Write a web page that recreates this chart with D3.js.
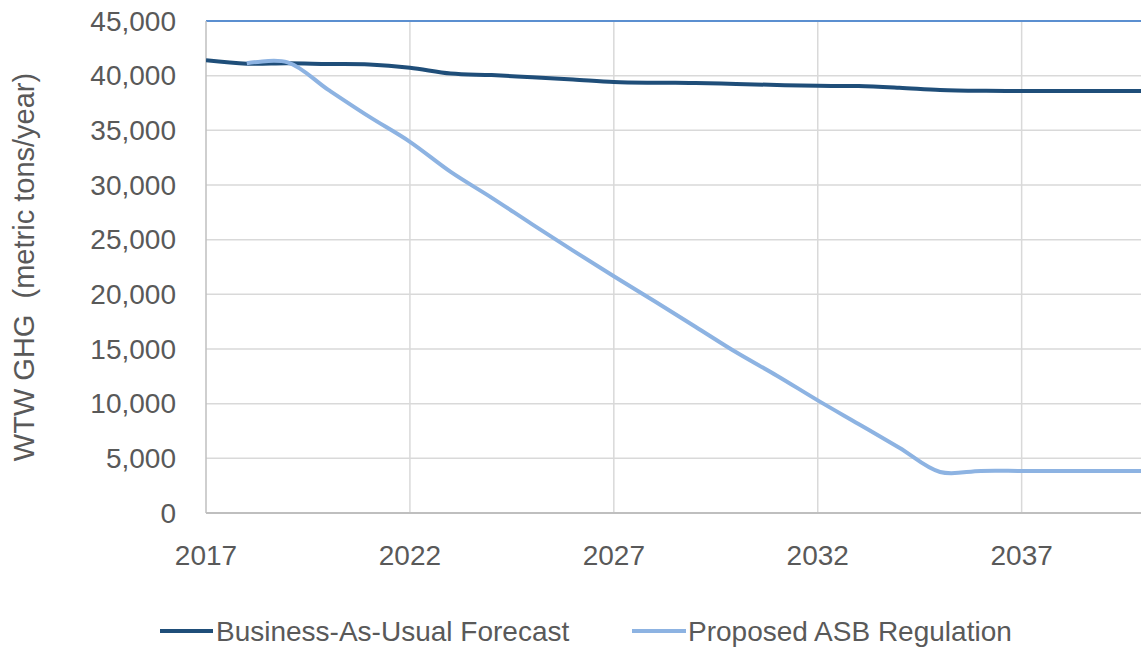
<!DOCTYPE html>
<html>
<head>
<meta charset="utf-8">
<script src="https://cdn.jsdelivr.net/npm/d3@7"></script>
<style>
  html, body { margin: 0; padding: 0; background: #fff; overflow: hidden; }
  svg { display: block; }
  text { font-family: "Liberation Sans", Arial, sans-serif; fill: #595959; }
</style>
</head>
<body>
<svg id="chart" width="1141" height="648"></svg>
<script>
const years = d3.range(2017, 2041);
const bauValues = [41400, 41100, 41130, 41070, 41030, 40730, 40200, 40050, 39850, 39650, 39420, 39350, 39330, 39240, 39150, 39070, 39050, 38900, 38700, 38620, 38600, 38600, 38600, 38600];
const asbYears = d3.range(2018, 2041);
const asbValues = [41130, 41220, 38700, 36250, 33950, 31200, 28850, 26400, 24000, 21650, 19370, 17040, 14700, 12560, 10300, 8140, 5970, 3750, 3850, 3850, 3850, 3850, 3850];
const yTicks = [0, 5000, 10000, 15000, 20000, 25000, 30000, 35000, 40000, 45000];
const xTicks = [2017, 2022, 2027, 2032, 2037];
const seriesNames = ["Business-As-Usual Forecast", "Proposed ASB Regulation"];
const yLabel = "WTW GHG  (metric tons/year)";

const colors = ["#1f4e79", "#8db3e2"];

const svg = d3.select("#chart");
const pLeft = 206, pRight = 1144, pTop = 21, pBottom = 513;

const x = d3.scaleLinear().domain([2017, 2040]).range([pLeft, pRight]);
const y = d3.scaleLinear().domain([0, 45000]).range([pBottom, pTop]);

// horizontal gridlines
svg.append("g").selectAll("line").data(yTicks.filter(d => d > 0 && d < 45000)).join("line")
  .attr("x1", pLeft).attr("x2", 1141)
  .attr("y1", d => y(d)).attr("y2", d => y(d))
  .attr("stroke", "#d9d9d9").attr("stroke-width", 1.5);

// vertical gridlines
svg.append("g").selectAll("line").data(xTicks.filter(d => d > 2017)).join("line")
  .attr("x1", d => x(d)).attr("x2", d => x(d))
  .attr("y1", pTop).attr("y2", pBottom)
  .attr("stroke", "#d9d9d9").attr("stroke-width", 1.5);

// top border line (blue)
svg.append("line").attr("x1", pLeft).attr("x2", 1141).attr("y1", y(45000)).attr("y2", y(45000))
  .attr("stroke", "#5b8fd0").attr("stroke-width", 2);

// axes lines
svg.append("line").attr("x1", pLeft).attr("x2", pLeft).attr("y1", pTop).attr("y2", pBottom)
  .attr("stroke", "#bfbfbf").attr("stroke-width", 1.5);
svg.append("line").attr("x1", pLeft).attr("x2", 1141).attr("y1", pBottom).attr("y2", pBottom)
  .attr("stroke", "#bfbfbf").attr("stroke-width", 2);

// y tick labels
const fmt = d3.format(",");
svg.append("g").selectAll("text").data(yTicks).join("text")
  .attr("x", 176).attr("y", d => y(d))
  .attr("dy", "0.35em")
  .attr("text-anchor", "end")
  .attr("font-size", 28)
  .text(d => fmt(d));

// x tick labels
svg.append("g").selectAll("text").data(xTicks).join("text")
  .attr("x", d => x(d)).attr("y", 565)
  .attr("text-anchor", "middle")
  .attr("font-size", 28)
  .text(d => d);

// y axis label
svg.append("text")
  .attr("transform", `translate(34, ${(pTop + pBottom) / 2}) rotate(-90)`)
  .attr("text-anchor", "middle")
  .attr("font-size", 29)
  .style("white-space", "pre")
  .text(yLabel);

// lines
const line = d3.line().x(d => x(d[0])).y(d => y(d[1])).curve(d3.curveCatmullRom.alpha(0.5));
const bauData = years.map((yr, i) => [yr, bauValues[i]]);
const asbData = asbYears.map((yr, i) => [yr, asbValues[i]]);

svg.append("clipPath").attr("id", "clip").append("rect")
  .attr("x", pLeft).attr("y", 0).attr("width", 1141 - pLeft).attr("height", pBottom);

svg.append("path").datum(bauData).attr("d", line)
  .attr("fill", "none").attr("stroke", colors[0]).attr("stroke-width", 4)
  .attr("stroke-linejoin", "round").attr("clip-path", "url(#clip)");
svg.append("path").datum(asbData).attr("d", line)
  .attr("fill", "none").attr("stroke", colors[1]).attr("stroke-width", 4)
  .attr("stroke-linejoin", "round").attr("clip-path", "url(#clip)");

// legend
const legendItems = [
  {name: seriesNames[0], color: colors[0], x1: 160, x2: 213, tx: 216},
  {name: seriesNames[1], color: colors[1], x1: 632, x2: 686, tx: 688}
];
const lg = svg.append("g");
legendItems.forEach(it => {
  lg.append("line").attr("x1", it.x1).attr("x2", it.x2).attr("y1", 631).attr("y2", 631)
    .attr("stroke", it.color).attr("stroke-width", 4);
  lg.append("text").attr("x", it.tx).attr("y", 631).attr("dy", "0.35em")
    .attr("font-size", 28).text(it.name);
});
</script>
</body>
</html>
